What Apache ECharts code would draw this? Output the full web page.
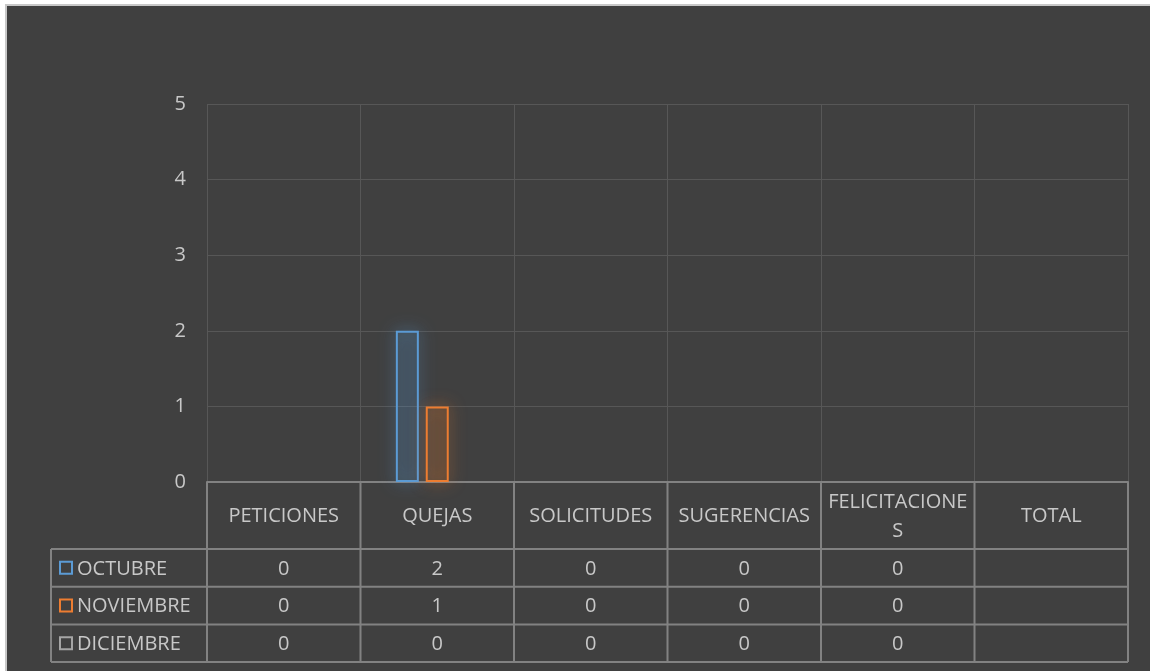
<!DOCTYPE html>
<html>
<head>
<meta charset="utf-8">
<script src="https://cdn.jsdelivr.net/npm/echarts@6/dist/echarts.min.js"></script>
<style>
  html, body { margin: 0; padding: 0; background: #ffffff; }
  #wrap { position: absolute; left: 0; top: 0; width: 1150px; height: 671px; background: #ffffff; }
  #frame { position: absolute; left: 5px; top: 4px; width: 1145px; height: 667px; background: #c8c8c8; }
  #chart { position: absolute; left: 7px; top: 6px; width: 1143px; height: 665px; background: #404040; }
</style>
</head>
<body>
<div id="wrap"><div id="frame"></div><div id="chart"></div></div>
<script>
// ---- data ----
const categories = ['PETICIONES', 'QUEJAS', 'SOLICITUDES', 'SUGERENCIAS', 'FELICITACIONE\nS', 'TOTAL'];
const seriesNames = ['OCTUBRE', 'NOVIEMBRE', 'DICIEMBRE'];
const octubre   = [0, 2, 0, 0, 0, null];
const noviembre = [0, 1, 0, 0, 0, null];
const diciembre = [0, 0, 0, 0, 0, null];
const yTicks = [0, 1, 2, 3, 4, 5];

const seriesData = [octubre, noviembre, diciembre];
const colors = ['#5B9BD5', '#ED7D31', '#A5A5A5'];
const glow = ['rgba(91,155,213,0.9)', 'rgba(237,125,49,0.9)', 'rgba(165,165,165,0.6)'];
const fills = ['rgba(91,155,213,0.10)', 'rgba(237,125,49,0.10)', 'rgba(165,165,165,0.10)'];

const textColor = '#c8c8c8';
const tableLine = '#828282';
const gridLine = '#575757';
const fontFamily = '"Open Sans", "Noto Sans", sans-serif';
const fontSize = 20;

const chart = echarts.init(document.getElementById('chart'), null, { renderer: 'canvas' });

const option = {
  backgroundColor: '#404040',
  animation: false,
  grid: { left: 200, right: 22, top: 98, bottom: 189, containLabel: false },
  xAxis: {
    type: 'category',
    data: categories,
    boundaryGap: true,
    axisLine: { show: true, lineStyle: { color: tableLine, width: 2 } },
    axisTick: { show: false },
    axisLabel: { show: false },
    splitLine: { show: true, interval: 0, lineStyle: { color: gridLine, width: 1 } }
  },
  yAxis: {
    type: 'value',
    min: yTicks[0],
    max: yTicks[yTicks.length - 1],
    interval: 1,
    axisLine: { show: false },
    axisTick: { show: false },
    axisLabel: { color: textColor, fontSize: fontSize, fontFamily: fontFamily, margin: 21 },
    splitLine: { show: true, lineStyle: { color: gridLine, width: 1 } }
  },
  series: seriesNames.map((name, i) => ({
    name: name,
    type: 'bar',
    barWidth: 23,
    barGap: '30%',
    data: seriesData[i].map(v => (v === 0 ? { value: 0, itemStyle: { borderWidth: 0, shadowBlur: 0, color: 'rgba(0,0,0,0)' } } : v)),
    itemStyle: {
      color: fills[i],
      borderColor: colors[i],
      borderWidth: 2,
      shadowBlur: 16,
      shadowColor: glow[i]
    }
  }))
};

chart.setOption(option);

function buildTable() {
  const centers = categories.map((c, i) => chart.convertToPixel({ xAxisIndex: 0 }, i));
  const band = centers[1] - centers[0];
  const xStart = centers[0] - band / 2;
  const xEnd = centers[centers.length - 1] + band / 2;
  const y0 = chart.convertToPixel({ yAxisIndex: 0 }, 0);
  const headerH = 67;
  const rowH = 37.7;
  const legendW = 154;
  const xLeft = xStart - legendW - 2;
  const yRows = [0, 1, 2, 3].map(k => y0 + headerH + k * rowH);
  const yBottom = yRows[3];

  const els = [];
  const line = (x1, y1, x2, y2) => els.push({
    type: 'line', z: 10,
    shape: { x1, y1, x2, y2 },
    style: { stroke: tableLine, lineWidth: 2 }
  });
  for (let i = 0; i <= categories.length; i++) {
    const x = xStart + i * band;
    line(x, y0, x, yBottom);
  }
  line(xLeft, yRows[0], xLeft, yBottom);
  yRows.forEach(y => line(xLeft, y, xEnd, y));

  categories.forEach((c, i) => {
    els.push({
      type: 'text', z: 11,
      x: centers[i], y: y0 + headerH / 2 + 1,
      style: {
        text: c, fill: textColor, font: fontSize + 'px ' + fontFamily,
        align: 'center', verticalAlign: 'middle', lineHeight: 29
      }
    });
  });

  seriesNames.forEach((name, r) => {
    const yc = yRows[r] + rowH / 2;
    els.push({
      type: 'rect', z: 11,
      shape: { x: xLeft + 9, y: yc - 6, width: 12, height: 12 },
      style: { fill: 'none', stroke: colors[r], lineWidth: 2 }
    });
    els.push({
      type: 'text', z: 11,
      x: xLeft + 26, y: yc + 1,
      style: { text: name, fill: textColor, font: fontSize + 'px ' + fontFamily, align: 'left', verticalAlign: 'middle' }
    });
    seriesData[r].forEach((v, i) => {
      if (v === null || v === undefined) return;
      els.push({
        type: 'text', z: 11,
        x: centers[i], y: yc + 1,
        style: { text: String(v), fill: textColor, font: fontSize + 'px ' + fontFamily, align: 'center', verticalAlign: 'middle' }
      });
    });
  });

  chart.setOption({ graphic: { elements: els } });
}
buildTable();
</script>
</body>
</html>
